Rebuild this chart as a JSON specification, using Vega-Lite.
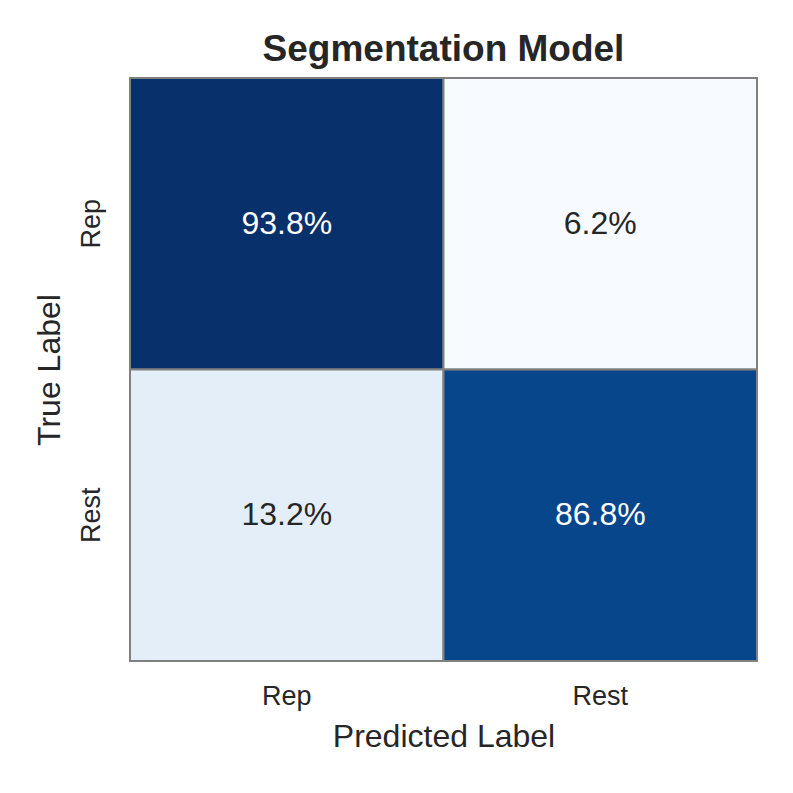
{
  "$schema": "https://vega.github.io/schema/vega-lite/v6.json",
  "width": 627,
  "height": 583,
  "autosize": {"type": "none"},
  "padding": {"left": 130, "top": 78, "right": 36, "bottom": 132},
  "background": "white",
  "config": {
    "font": "Liberation Sans",
    "view": {"stroke": "#808080", "strokeWidth": 2}
  },
  "title": {
    "text": "Segmentation Model",
    "fontSize": 37,
    "fontWeight": "bold",
    "color": "#262626",
    "font": "Liberation Sans",
    "offset": 8,
    "anchor": "middle"
  },
  "data": {
    "values": [
      {"true_label": "Rep", "pred_label": "Rep", "pct": 93.8, "text": "93.8%"},
      {"true_label": "Rep", "pred_label": "Rest", "pct": 6.2, "text": "6.2%"},
      {"true_label": "Rest", "pred_label": "Rep", "pct": 13.2, "text": "13.2%"},
      {"true_label": "Rest", "pred_label": "Rest", "pct": 86.8, "text": "86.8%"}
    ]
  },
  "encoding": {
    "x": {
      "field": "pred_label",
      "type": "nominal",
      "sort": ["Rep", "Rest"],
      "scale": {"paddingInner": 0, "paddingOuter": 0},
      "axis": {
        "title": "Predicted Label",
        "titleFontSize": 32,
        "titleFontWeight": "normal",
        "titleColor": "#262626",
        "titlePadding": 12,
        "labelFontSize": 27,
        "labelColor": "#262626",
        "labelAngle": 0,
        "labelPadding": 22,
        "ticks": false,
        "domain": false
      }
    },
    "y": {
      "field": "true_label",
      "type": "nominal",
      "sort": ["Rep", "Rest"],
      "scale": {"paddingInner": 0, "paddingOuter": 0},
      "axis": {
        "title": "True Label",
        "titleFontSize": 32,
        "titleFontWeight": "normal",
        "titleColor": "#262626",
        "titlePadding": 11,
        "labelFontSize": 27,
        "labelColor": "#262626",
        "labelAngle": -90,
        "labelPadding": 25,
        "ticks": false,
        "domain": false
      }
    }
  },
  "layer": [
    {
      "mark": {"type": "rect", "stroke": "#808080", "strokeWidth": 2},
      "encoding": {
        "color": {
          "field": "pct",
          "type": "ordinal",
          "scale": {
            "domain": [6.2, 13.2, 86.8, 93.8],
            "range": ["#f7fbff", "#e4eef9", "#08468b", "#08306b"]
          },
          "legend": null
        }
      }
    },
    {
      "mark": {"type": "text", "fontSize": 32, "font": "Liberation Sans"},
      "encoding": {
        "text": {"field": "text"},
        "color": {
          "condition": {"test": "datum.pct > 50", "value": "white"},
          "value": "#262626"
        }
      }
    }
  ]
}
